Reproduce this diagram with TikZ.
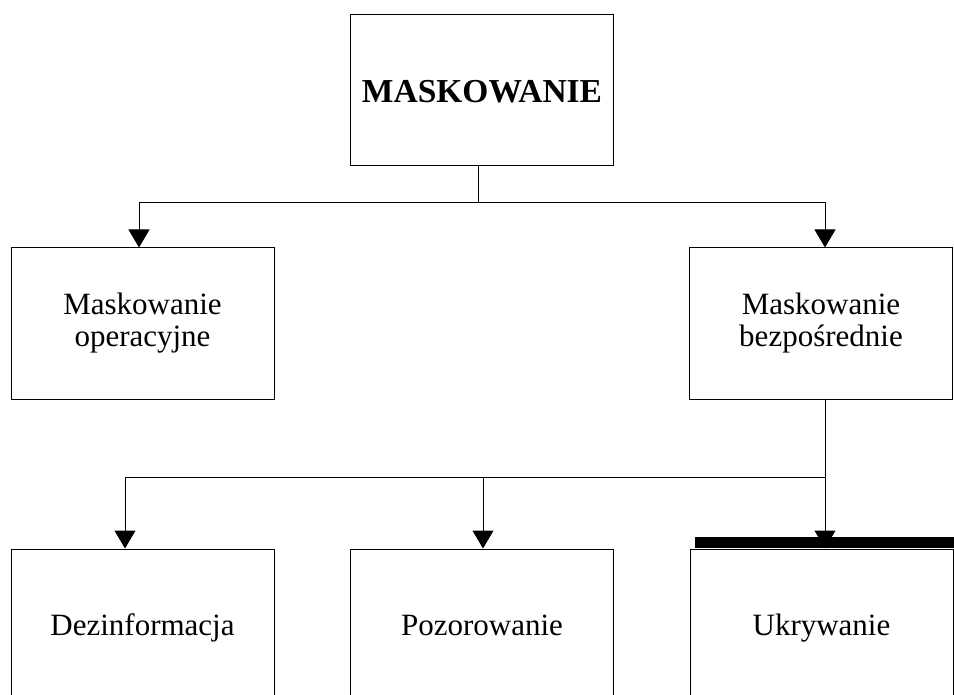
\documentclass[tikz,border=0pt]{standalone}
\usepackage{fontspec}
\setmainfont{Liberation Serif}
\usetikzlibrary{arrows.meta,calc}
\tikzset{
  chartbox/.style={draw,line width=1pt,minimum width=263pt,minimum height=151pt,inner sep=0pt,align=center,font=\fontsize{31}{32}\selectfont},
  oneline/.style={text height=22pt,text depth=0pt},
  link/.style={line width=1pt,-{Triangle[length=18pt,width=21pt]}}
}
\begin{document}
\begin{tikzpicture}[x=1pt,y=-1pt]
                \useasboundingbox(0,0)rectangle(954,695);
                \clip(0,0)rectangle(954,695);
                \node[chartbox,oneline,text height=25pt,font=\fontsize{33.5}{34}\selectfont\bfseries](top)at(482,90.5){MASKOWANIE};
                \node[chartbox](op)at(142.5,323.5){Maskowanie\\operacyjne};
                \node[chartbox](bez)at(821,323.5){Maskowanie\\bezpośrednie};
                \node[chartbox,oneline](dez)at(142.5,624.5){Dezinformacja};
                \node[chartbox,oneline](poz)at(482,624.5){Pozorowanie};
                \node[chartbox,oneline](ukr)at(821.5,624.5){Ukrywanie};
                \coordinate(hub)at(478,203);
                \coordinate(hubb)at(825,477);
                \draw[line width=1pt](top.south-|hub)--(hub);
                \draw[link](hub)-|([xshift=-3.5pt]op.north);
                \draw[link](hub)-|([xshift=4pt]bez.north);
                \draw[line width=1pt](bez.south-|hubb)--(hubb);
                \draw[link](hubb)-|([xshift=-17.5pt]dez.north);
                \draw[link](hubb)-|([xshift=1pt]poz.north);
                \draw[link](hubb)--(ukr.north-|hubb);
                \fill($(ukr.north west)+(5,-12)$)rectangle($(ukr.north east)+(3,-1)$);
            \end{tikzpicture}
\end{document}
